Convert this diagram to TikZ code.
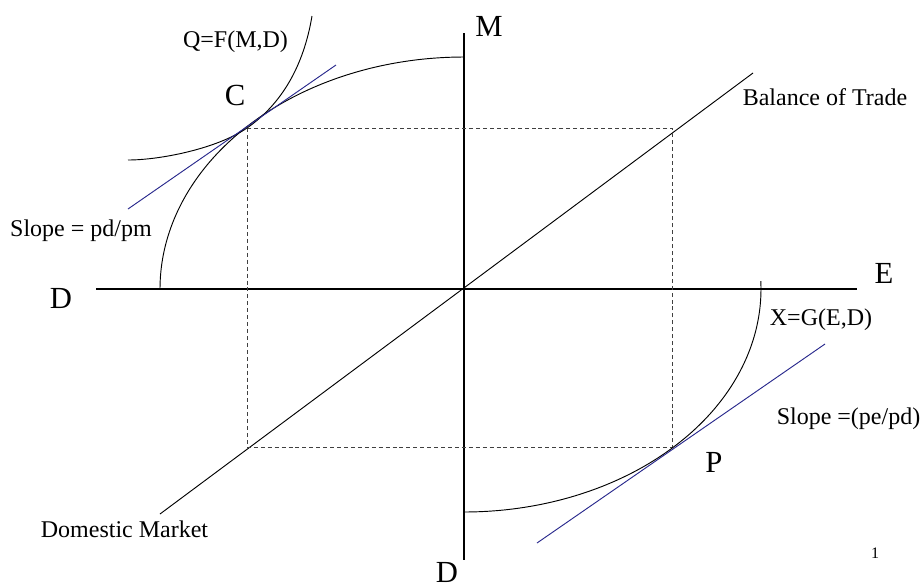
\documentclass[tikz,border=0pt]{standalone}
\usepackage{fontspec}
\setmainfont{Liberation Serif}
\definecolor{tangblue}{RGB}{40,40,140}
\begin{document}
\begin{tikzpicture}[x=0.75pt,y=-0.75pt,
  axis/.style={line width=0.8pt},
  curve/.style={line width=0.7pt},
  tang/.style={line width=0.7pt, draw=tangblue},
  guide/.style={line width=0.6pt, dash pattern=on 3pt off 2.2pt, draw=black!75},
  lab/.style={anchor=base, inner sep=0pt, font=\fontsize{18}{20}\selectfont},
  big/.style={anchor=base, inner sep=0pt, font=\fontsize{23}{26}\selectfont},
  tiny/.style={anchor=base, inner sep=0pt, font=\fontsize{12}{14}\selectfont}]
\useasboundingbox (0,0) rectangle (922,587);
% key points
\coordinate (O) at (464,289);
\coordinate (Dl) at (96,289);
\coordinate (Er) at (857,289);
\coordinate (Mt) at (464,33);
\coordinate (Db) at (464,560);
\coordinate (BTu) at (753,73);
\coordinate (BTl) at (160,514);
\coordinate (Cpt) at (247,128);
\coordinate (Ppt) at (672,447);
\coordinate (Ct1) at (128,209);
\coordinate (Ct2) at (336,65);
\coordinate (Pt1) at (537,543);
\coordinate (Pt2) at (825,344);
% axes
\draw[axis] (Dl) -- (Er);
\draw[axis] (Mt) -- (Db);
% balance of trade / domestic market line
\draw[curve] (BTl) -- (BTu);
% dashed rectangle
\draw[guide] (Cpt) rectangle (Ppt);
% production frontiers
\draw[curve] plot[domain=180:270, samples=80, smooth] ({464+304*cos(\x)},{289+232*sin(\x)});
\draw[curve] plot[domain=-2:90, samples=80, smooth] ({464+297*cos(\x)},{289+223*sin(\x)});
% indifference curve
\draw[curve] (128,160) .. controls (160,160) and (217,148.7) .. (Cpt)
  .. controls (282,103.85) and (303.8,65.3) .. (312,16);
% tangent lines
\draw[tang] (Ct1) -- (Ct2);
\draw[tang] (Pt1) -- (Pt2);
% labels
\node[lab] (lQ) at (235.5,47) {Q=F(M,D)};
\node[big] (lC) at (235,105) {C};
\node[big] (lM) at (489,36) {M};
\node[lab] (lBT) at (825,105) {Balance of Trade};
\node[lab] (lS1) at (81,236) {Slope = pd/pm};
\node[big] (lDl) at (61,308) {D};
\node[big] (lE) at (884,283) {E};
\node[lab] (lX) at (821,325) {X=G(E,D)};
\node[lab] (lS2) at (848.5,424) {Slope =(pe/pd)};
\node[big] (lP) at (714,472) {P};
\node[tiny] (l1) at (875,558) {1};
\node[lab] (lDM) at (124.5,537) {Domestic Market};
\node[big] (lDb) at (447,582) {D};
\end{tikzpicture}
\end{document}
